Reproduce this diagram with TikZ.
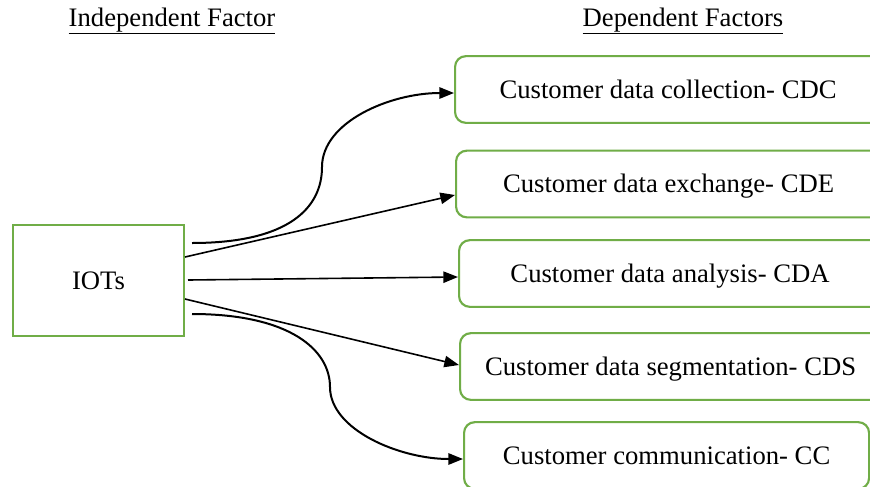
\documentclass[tikz,border=0pt]{standalone}
\usepackage{fontspec}
\setmainfont{Liberation Serif}
\usetikzlibrary{arrows.meta,calc}
\definecolor{boxgreen}{HTML}{70AD47}
\begin{document}
\begin{tikzpicture}[x=0.75pt,y=-0.75pt,
  every node/.style={font=\fontsize{20}{24}\selectfont},
  depbox/.style={draw=boxgreen,line width=1.6pt,rounded corners=8pt,anchor=west,
    minimum height=50pt,inner sep=0pt,text height=13pt,text depth=0pt},
  indbox/.style={draw=boxgreen,line width=1.6pt,minimum width=128.25pt,
    minimum height=83.25pt,inner sep=0pt,text height=13pt,text depth=0pt},
  conn/.style={line width=1.2pt,-{Triangle[length=11pt,width=8.5pt]}},
  curveconn/.style={line width=1.5pt,-{Triangle[length=11pt,width=8.5pt]}}]
\useasboundingbox (0,0) rectangle (870,486);
\clip (0,0) rectangle (870,486);
\fill[white] (0,0) rectangle (870,486);
% headers
\node (hind) at (172,21) {\underline{Independent Factor}};
\node (hdep) at (683,21) {\underline{Dependent Factors}};
% independent box
\node[indbox] (iot) at (98.5,280.5) {IOTs};
% dependent boxes
\node[depbox,minimum width=319.5pt] (b1) at (454,89.5) {Customer data collection- CDC};
\node[depbox,minimum width=318.75pt] (b2) at (455,184) {Customer data exchange- CDE};
\node[depbox,minimum width=316.5pt] (b3) at (458,273.5) {Customer data analysis- CDA};
\node[depbox,minimum width=315.75pt] (b4) at (459,366.5) {Customer data segmentation- CDS};
\node[depbox,minimum width=303.75pt] (b5) at (463,455.5) {Customer communication- CC};
% start coordinates
\coordinate (s1) at (192,243);
\coordinate (s2) at (185,257);
\coordinate (s3) at (188,280);
\coordinate (s4) at (185,299);
\coordinate (s5) at (192,314);
% connectors
\draw[curveconn] (s1) .. controls (290,243) and (322,207) .. (322,167)
  .. controls (322,122) and (390,93) .. ($(b1.west)+(0,3.5)$);
\draw[conn] (s2) -- ($(b2.west)+(0,11)$);
\draw[conn] (s3) -- ($(b3.west)+(0,3.5)$);
\draw[conn] (s4) -- ($(b4.west)+(0,-1.5)$);
\draw[curveconn] (s5) .. controls (290,314) and (330,350) .. (330,387)
  .. controls (330,430) and (400,459) .. ($(b5.west)+(0,3.5)$);
\end{tikzpicture}
\end{document}
